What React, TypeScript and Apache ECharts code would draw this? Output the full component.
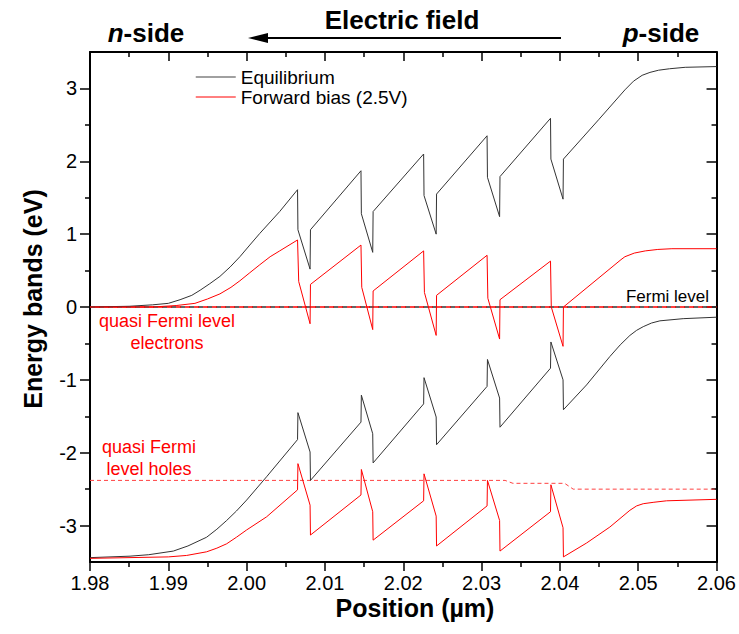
import React, { useEffect, useRef } from "react";
import * as echarts from "echarts";

// ---- Data (x in µm, y in eV) ----
const eqConduction: [number, number][] = [
  [1.98, 0.0], [1.985, 0.01], [1.988, 0.03], [1.99, 0.05], [1.9915, 0.1], [1.993, 0.16],
  [1.99406, 0.23], [1.9953, 0.32], [1.99659, 0.42], [1.9979, 0.55], [1.99914, 0.69],
  [2.0004, 0.85], [2.00168, 1.01], [2.00422, 1.31],
  [2.0065, 1.61], [2.00655, 1.06], [2.0081, 0.52], [2.00815, 1.06],
  [2.0146, 1.87], [2.01465, 1.28], [2.0161, 0.75], [2.01615, 1.31],
  [2.0226, 2.1], [2.02265, 1.53], [2.0242, 1.0], [2.02425, 1.55],
  [2.0307, 2.35], [2.03075, 1.78], [2.0323, 1.24], [2.03235, 1.79],
  [2.0388, 2.59], [2.03885, 2.03], [2.0404, 1.48], [2.04045, 2.03],
  [2.04494, 2.57], [2.0483, 2.98], [2.0494, 3.1], [2.0505, 3.18], [2.0515, 3.22],
  [2.0526, 3.25], [2.054, 3.27], [2.056, 3.29], [2.06, 3.3],
];
const fbConduction: [number, number][] = [
  [1.98, 0.0], [1.988, 0.0], [1.991, 0.02], [1.9934, 0.05], [1.995, 0.11], [1.99659, 0.18],
  [1.998, 0.27], [1.99914, 0.36], [2.0004, 0.47], [2.00168, 0.58], [2.003, 0.69], [2.00422, 0.77],
  [2.0065, 0.92], [2.00665, 0.35], [2.0081, -0.23], [2.00815, 0.31],
  [2.0146, 0.85], [2.0147, 0.27], [2.0161, -0.31], [2.01615, 0.22],
  [2.0226, 0.77], [2.0227, 0.2], [2.0242, -0.39], [2.02425, 0.16],
  [2.0307, 0.71], [2.0308, 0.12], [2.0323, -0.44], [2.03235, 0.1],
  [2.0388, 0.63], [2.0389, 0.0], [2.0404, -0.54], [2.04045, 0.0],
  [2.0478, 0.65], [2.0483, 0.69], [2.0495, 0.74], [2.0509, 0.77], [2.0525, 0.79],
  [2.0543, 0.8], [2.06, 0.8],
];
const eqValence: [number, number][] = [
  [1.98, -3.44], [1.98511, -3.42], [1.9875, -3.4], [1.99064, -3.35], [1.9925, -3.28],
  [1.99489, -3.16], [1.9962, -3.05], [1.99745, -2.93], [1.9987, -2.8], [2.0, -2.65],
  [2.00255, -2.33],
  [2.0065, -1.82], [2.00655, -1.45], [2.0081, -1.99], [2.00815, -2.38],
  [2.0146, -1.58], [2.01465, -1.21], [2.0161, -1.74], [2.01615, -2.14],
  [2.0226, -1.33], [2.02265, -0.97], [2.0242, -1.51], [2.02425, -1.89],
  [2.0307, -1.09], [2.03075, -0.72], [2.0323, -1.25], [2.03235, -1.65],
  [2.0388, -0.84], [2.03885, -0.48], [2.0404, -1.0], [2.04045, -1.41],
  [2.0434, -1.07], [2.04638, -0.68], [2.0477, -0.52], [2.04894, -0.39], [2.0498, -0.32],
  [2.05064, -0.27], [2.0517, -0.22], [2.05277, -0.19], [2.05574, -0.16], [2.06, -0.14],
];
const fbValence: [number, number][] = [
  [1.98, -3.45], [1.99, -3.43], [1.99234, -3.41], [1.99489, -3.36], [1.9962, -3.31],
  [1.99745, -3.25], [1.9987, -3.16], [2.0, -3.06], [2.00255, -2.88],
  [2.0065, -2.51], [2.00655, -2.15], [2.0081, -2.72], [2.00815, -3.13],
  [2.0146, -2.58], [2.01465, -2.23], [2.0161, -2.81], [2.01615, -3.2],
  [2.0226, -2.66], [2.02265, -2.29], [2.0242, -2.87], [2.02425, -3.28],
  [2.0307, -2.73], [2.03075, -2.38], [2.0323, -2.93], [2.03235, -3.35],
  [2.0388, -2.81], [2.03885, -2.44], [2.0404, -3.03], [2.04045, -3.43],
  [2.0434, -3.24], [2.04638, -3.02], [2.04894, -2.79], [2.0498, -2.73], [2.05064, -2.7],
  [2.052, -2.68], [2.05362, -2.66], [2.06, -2.64],
];
const fermiLevel: [number, number][] = [[1.98, 0.0], [2.06, 0.0]];
const qflElectrons: [number, number][] = [[1.98, 0.0], [2.06, 0.0]];
const qflHoles: [number, number][] = [
  [1.98, -2.38], [2.033, -2.38], [2.034, -2.42], [2.0406, -2.42], [2.0417, -2.5], [2.06, -2.5],
];

const xMajorTicks = [1.98, 1.99, 2.0, 2.01, 2.02, 2.03, 2.04, 2.05, 2.06];
const xMinorTicks = [1.985, 1.995, 2.005, 2.015, 2.025, 2.035, 2.045, 2.055];
const yMajorTicks = [-3, -2, -1, 0, 1, 2, 3];
const yMinorTicks = [-2.5, -1.5, -0.5, 0.5, 1.5, 2.5];

const X_MIN = 1.98;
const X_MAX = 2.06;
const Y_MIN = -3.5;
const Y_MAX = 3.5;

const FONT = "'Liberation Sans', Arial, sans-serif";
const EQ_NAME = "Equilibrium";
const FB_NAME = "Forward bias (2.5V)";

function makeX(position: "top" | "bottom", major: boolean, labels: boolean) {
  return {
    type: "value",
    position,
    min: X_MIN,
    max: X_MAX,
    axisLine: { show: major, onZero: false, lineStyle: { color: "#000", width: 2 } },
    axisTick: {
      show: true,
      inside: position === "top",
      length: major ? 9 : 5,
      customValues: major ? xMajorTicks : xMinorTicks,
      lineStyle: { color: "#000", width: 1.5 },
    },
    axisLabel: labels
      ? {
          show: true,
          customValues: xMajorTicks,
          formatter: (v: number) => v.toFixed(2),
          fontSize: 20,
          color: "#000",
          fontFamily: FONT,
          margin: 11,
        }
      : { show: false },
    splitLine: { show: false },
  };
}

function makeY(position: "left" | "right", major: boolean, labels: boolean) {
  return {
    type: "value",
    position,
    min: Y_MIN,
    max: Y_MAX,
    axisLine: { show: major, onZero: false, lineStyle: { color: "#000", width: 2 } },
    axisTick: {
      show: true,
      inside: position === "right",
      length: major ? 10 : 5,
      customValues: major ? yMajorTicks : yMinorTicks,
      lineStyle: { color: "#000", width: 1.5 },
    },
    axisLabel: labels
      ? {
          show: true,
          customValues: yMajorTicks,
          formatter: (v: number) => String(v),
          fontSize: 20,
          color: "#000",
          fontFamily: FONT,
          margin: 13,
        }
      : { show: false },
    splitLine: { show: false },
  };
}

function lineSeries(name: string, data: [number, number][], color: string, width: number, type: any = "solid", dashOffset = 0, z = 3) {
  return {
    type: "line",
    name,
    data,
    xAxisIndex: 0,
    yAxisIndex: 0,
    symbol: "none",
    showSymbol: false,
    z,
    lineStyle: { color, width, type, dashOffset },
    itemStyle: { color },
    emphasis: { disabled: true },
  };
}

export default function App() {
  const ref = useRef<HTMLDivElement>(null);
  useEffect(() => {
    if (!ref.current) return;
    const chart = echarts.init(ref.current, undefined, { renderer: "svg" });
    chart.setOption({
      animation: false,
      backgroundColor: "#fff",
      textStyle: { fontFamily: FONT },
      grid: { left: 90, right: 21, top: 52, bottom: 72, containLabel: false },
      xAxis: [
        makeX("bottom", true, true),
        makeX("bottom", false, false),
        makeX("top", true, false),
        makeX("top", false, false),
      ],
      yAxis: [
        makeY("left", true, true),
        makeY("left", false, false),
        makeY("right", true, false),
        makeY("right", false, false),
      ],
      legend: {
        data: [
          { name: EQ_NAME, lineStyle: { color: "#808080", width: 1.5 }, itemStyle: { color: "#808080", opacity: 0 } },
          { name: FB_NAME, lineStyle: { color: "#ff0000", width: 1 }, itemStyle: { color: "#ff0000", opacity: 0 } },
        ],
        orient: "vertical",
        left: 190,
        top: 62,
        padding: 5,
        itemWidth: 40,
        itemHeight: 12,
        itemGap: 0,
        selectedMode: false,
        itemStyle: { opacity: 0 },
        textStyle: { fontSize: 19, color: "#000", fontFamily: FONT, lineHeight: 20 },
      },
      series: [
        lineSeries("Fermi level", fermiLevel, "#333", 1.5, [5, 4], 0, 2),
        lineSeries("quasi Fermi level electrons", qflElectrons, "#ff0000", 1.5, [5, 4], 4, 2),
        lineSeries("quasi Fermi level holes", qflHoles, "#ff4040", 1, [4, 3], 0, 2),
        lineSeries(EQ_NAME, eqConduction, "#333", 1),
        lineSeries(EQ_NAME, eqValence, "#333", 1),
        lineSeries(FB_NAME, fbConduction, "#ff0000", 1),
        lineSeries(FB_NAME, fbValence, "#ff0000", 1),
      ],
      graphic: [
        {
          type: "text",
          x: 402,
          y: 20,
          style: { text: "Electric field", font: `bold 26px ${FONT}`, fill: "#000", align: "center", verticalAlign: "middle" },
        },
        {
          type: "line",
          shape: { x1: 561, y1: 38, x2: 262, y2: 38 },
          style: { stroke: "#000", lineWidth: 2 },
        },
        {
          type: "polygon",
          shape: { points: [[248, 38], [268, 33], [268, 43]] },
          style: { fill: "#000" },
        },
        {
          type: "text",
          x: 146,
          y: 33,
          style: {
            text: "{i|n}{b|-side}",
            align: "center",
            verticalAlign: "middle",
            fill: "#000",
            rich: {
              i: { fontStyle: "italic", fontWeight: "bold", fontSize: 26, fontFamily: FONT, fill: "#000" },
              b: { fontWeight: "bold", fontSize: 26, fontFamily: FONT, fill: "#000" },
            },
          },
        },
        {
          type: "text",
          x: 661,
          y: 33,
          style: {
            text: "{i|p}{b|-side}",
            align: "center",
            verticalAlign: "middle",
            fill: "#000",
            rich: {
              i: { fontStyle: "italic", fontWeight: "bold", fontSize: 26, fontFamily: FONT, fill: "#000" },
              b: { fontWeight: "bold", fontSize: 26, fontFamily: FONT, fill: "#000" },
            },
          },
        },
        {
          type: "text",
          x: 709,
          y: 296,
          style: { text: "Fermi level", font: `17px ${FONT}`, fill: "#000", align: "right", verticalAlign: "middle" },
        },
        {
          type: "text",
          x: 167,
          y: 332,
          style: {
            text: "quasi Fermi level\nelectrons",
            font: `18px ${FONT}`,
            lineHeight: 22,
            fill: "#ff0000",
            align: "center",
            verticalAlign: "middle",
          },
        },
        {
          type: "text",
          x: 149,
          y: 458,
          style: {
            text: "quasi Fermi\nlevel holes",
            font: `18px ${FONT}`,
            lineHeight: 22,
            fill: "#ff0000",
            align: "center",
            verticalAlign: "middle",
          },
        },
        {
          type: "text",
          x: 415,
          y: 608,
          style: { text: "Position (µm)", font: `bold 25px ${FONT}`, fill: "#000", align: "center", verticalAlign: "middle" },
        },
        {
          type: "text",
          x: 33,
          y: 299,
          rotation: Math.PI / 2,
          style: { text: "Energy bands (eV)", font: `bold 25px ${FONT}`, fill: "#000", align: "center", verticalAlign: "middle" },
        },
      ],
    });
    return () => chart.dispose();
  }, []);
  return <div ref={ref} style={{ position: "fixed", left: 0, top: 0, width: 739, height: 634 }} />;
}
